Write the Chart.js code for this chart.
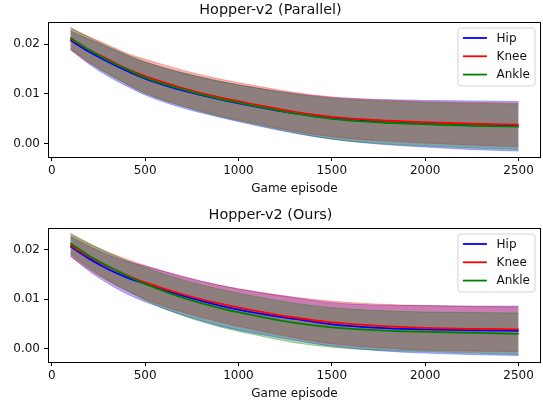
<!DOCTYPE html>
<html>
<head>
<meta charset="utf-8">
<title>Hopper-v2</title>
<script src="https://cdn.jsdelivr.net/npm/chart.js@4.4.0/dist/chart.umd.min.js"></script>
<style>
  html, body { margin: 0; padding: 0; background: #fff; }
  canvas { display: block; }
</style>
</head>
<body>
<canvas id="parallelChart" width="543" height="200"></canvas>
<canvas id="oursChart" width="543" height="205"></canvas>
<script>
// ---- data ----
const episodes = [100, 200, 300, 400, 500, 700, 900, 1100, 1300, 1500, 1750, 2000, 2250, 2500];
const xTicks = [0, 500, 1000, 1500, 2000, 2500];
const yTicks = [0, 0.01, 0.02];
const seriesNames = ["Hip", "Knee", "Ankle"];
const seriesColors = ["#0000ff", "#ff0000", "#008000"];
const bandColors = ["rgba(0,0,255,0.3)", "rgba(255,0,0,0.3)", "rgba(0,128,0,0.3)"];

// Hopper-v2 (Parallel)
const parHipMean   = [0.0208, 0.0185, 0.0165, 0.0147, 0.0131, 0.0107, 0.0089, 0.0074, 0.0061, 0.0051, 0.0044, 0.0040, 0.0037, 0.0035];
const parKneeMean  = [0.0211, 0.0189, 0.0170, 0.0151, 0.0136, 0.0112, 0.0093, 0.0078, 0.0064, 0.0054, 0.0047, 0.0043, 0.0040, 0.0038];
const parAnkleMean = [0.0213, 0.0189, 0.0168, 0.0150, 0.0133, 0.0109, 0.0090, 0.0075, 0.0061, 0.0050, 0.0043, 0.0039, 0.0036, 0.0034];
const parHipStd    = [0.0019, 0.0025, 0.0029, 0.0031, 0.0033, 0.0035, 0.0036, 0.0038, 0.0040, 0.0042, 0.0045, 0.0047, 0.0049, 0.0050];
const parKneeStd   = [0.0022, 0.0026, 0.0029, 0.0031, 0.0034, 0.0036, 0.0037, 0.0038, 0.0039, 0.0040, 0.0041, 0.0042, 0.0043, 0.0044];
const parAnkleStd  = [0.0021, 0.0025, 0.0028, 0.0030, 0.0032, 0.0034, 0.0036, 0.0037, 0.0039, 0.0041, 0.0043, 0.0044, 0.0045, 0.0046];

// Hopper-v2 (Ours)
const oursHipMean   = [0.0207, 0.0182, 0.0161, 0.0144, 0.0131, 0.0107, 0.0087, 0.0072, 0.0060, 0.0049, 0.0042, 0.0039, 0.0037, 0.0036];
const oursKneeMean  = [0.0209, 0.0186, 0.0166, 0.0149, 0.0134, 0.0110, 0.0091, 0.0076, 0.0063, 0.0053, 0.0046, 0.0042, 0.0040, 0.0039];
const oursAnkleMean = [0.0213, 0.0188, 0.0167, 0.0148, 0.0131, 0.0103, 0.0082, 0.0066, 0.0052, 0.0043, 0.0037, 0.0034, 0.0032, 0.0030];
const oursHipStd    = [0.0020, 0.0025, 0.0029, 0.0033, 0.0036, 0.0039, 0.0041, 0.0042, 0.0043, 0.0044, 0.0046, 0.0048, 0.0049, 0.0050];
const oursKneeStd   = [0.0022, 0.0026, 0.0029, 0.0032, 0.0034, 0.0036, 0.0037, 0.0039, 0.0041, 0.0043, 0.0044, 0.0045, 0.0045, 0.0045];
const oursAnkleStd  = [0.0021, 0.0025, 0.0028, 0.0030, 0.0033, 0.0036, 0.0038, 0.0039, 0.0040, 0.0040, 0.0040, 0.0040, 0.0041, 0.0042];

const FONT = '"DejaVu Sans", "Liberation Sans", sans-serif';
Chart.defaults.font.family = FONT;
Chart.defaults.font.size = 12;
Chart.defaults.color = "#111";

/* ---------- frame (all four spines) + legend inside axes ---------- */
const axesFrame = {
  id: "axesFrame",
  afterDraw(chart) {
    const { ctx, chartArea: a } = chart;
    ctx.save();
    ctx.strokeStyle = "#000";
    ctx.lineWidth = 1;
    ctx.strokeRect(Math.round(a.left) + 0.5, Math.round(a.top) + 0.5,
      Math.round(a.right - a.left) - 1, Math.round(a.bottom - a.top));

    // legend, matplotlib style (upper right)
    ctx.font = "12px " + FONT;
    const textW = Math.max(...seriesNames.map((n) => ctx.measureText(n).width));
    const pad = 5, handle = 24, gap = 9.6, rowH = 18.3;
    const w = pad + handle + gap + textW + pad;
    const h = 58;
    const x = a.right - 6 - w;
    const y = a.top + 6;
    const r = 3;
    ctx.beginPath();
    ctx.moveTo(x + r, y);
    ctx.arcTo(x + w, y, x + w, y + h, r);
    ctx.arcTo(x + w, y + h, x, y + h, r);
    ctx.arcTo(x, y + h, x, y, r);
    ctx.arcTo(x, y, x + w, y, r);
    ctx.closePath();
    ctx.fillStyle = "rgba(255,255,255,0.8)";
    ctx.fill();
    ctx.strokeStyle = "#d4d4d4";
    ctx.stroke();

    ctx.textBaseline = "middle";
    ctx.textAlign = "left";
    seriesNames.forEach((name, i) => {
      const cy = y + 10 + i * rowH;
      ctx.strokeStyle = seriesColors[i];
      ctx.lineWidth = 1.8;
      ctx.beginPath();
      ctx.moveTo(x + pad, cy);
      ctx.lineTo(x + pad + handle, cy);
      ctx.stroke();
      ctx.fillStyle = "#111";
      ctx.fillText(name, x + pad + handle + gap, cy + 0.5);
    });
    ctx.restore();
  },
};

function points(ys) {
  return episodes.map((x, i) => ({ x, y: ys[i] }));
}

function makeChart(canvasId, title, means, stds, yMin, yMax, titlePad) {
  const datasets = [];
  // mean lines first: index 0 is painted last (on top) -> Ankle on top
  [2, 1, 0].forEach((k) => {
    datasets.push({
      label: seriesNames[k],
      data: points(means[k]),
      borderColor: seriesColors[k],
      borderWidth: 1.8,
      pointRadius: 0,
      fill: false,
      cubicInterpolationMode: "monotone",
    });
  });
  // mean ± std bands (lower, then upper filled to lower)
  [2, 1, 0].forEach((k) => {
    datasets.push({
      label: seriesNames[k] + " lower",
      data: points(means[k].map((m, i) => m - stds[k][i])),
      borderColor: bandColors[k],
      borderWidth: 1,
      pointRadius: 0,
      fill: false,
      cubicInterpolationMode: "monotone",
    });
    datasets.push({
      label: seriesNames[k] + " upper",
      data: points(means[k].map((m, i) => m + stds[k][i])),
      borderColor: bandColors[k],
      backgroundColor: bandColors[k],
      borderWidth: 1,
      pointRadius: 0,
      fill: "-1",
      cubicInterpolationMode: "monotone",
    });
  });

  const el = document.getElementById(canvasId);
  return new Chart(el.getContext("2d"), {
    type: "line",
    data: { datasets },
    options: {
      responsive: false,
      animation: false,
      events: [],
      devicePixelRatio: 1,
      layout: { padding: { left: 0, right: 2, top: 0, bottom: 0 } },
      plugins: {
        legend: { display: false },
        tooltip: { enabled: false },
        title: {
          display: true,
          text: title,
          color: "#111",
          font: { size: 14.4, weight: "normal" },
          padding: titlePad,
        },
      },
      scales: {
        x: {
          type: "linear",
          min: -20,
          max: 2620,
          border: { display: false },
          grid: { drawOnChartArea: false, drawTicks: true, tickLength: 4, color: "#000" },
          ticks: { padding: 3, maxRotation: 0, callback: (v) => String(v) },
          title: { display: true, text: "Game episode", font: { size: 12 }, padding: { top: 0, bottom: 3.8 } },
          afterBuildTicks: (s) => { s.ticks = xTicks.map((v) => ({ value: v })); },
          afterFit: (s) => { s.height = 43; s.paddingLeft = 0; s.paddingRight = 0; },
        },
        y: {
          type: "linear",
          min: yMin,
          max: yMax,
          border: { display: false },
          grid: { drawOnChartArea: false, drawTicks: true, tickLength: 4, color: "#000" },
          ticks: { padding: 4, callback: (v) => Number(v).toFixed(2) },
          afterBuildTicks: (s) => { s.ticks = yTicks.map((v) => ({ value: v })); },
          afterFit: (s) => { s.width = 48; s.paddingTop = 0; s.paddingBottom = 0; },
        },
      },
    },
    plugins: [axesFrame],
  });
}

makeChart("parallelChart", "Hopper-v2 (Parallel)",
  [parHipMean, parKneeMean, parAnkleMean],
  [parHipStd, parKneeStd, parAnkleStd],
  -0.0027, 0.0245, { top: 1.4, bottom: 3.3 });

makeChart("oursChart", "Hopper-v2 (Ours)",
  [oursHipMean, oursKneeMean, oursAnkleMean],
  [oursHipStd, oursKneeStd, oursAnkleStd],
  -0.0027, 0.0244, { top: 6.4, bottom: 4.3 });
</script>
</body>
</html>
